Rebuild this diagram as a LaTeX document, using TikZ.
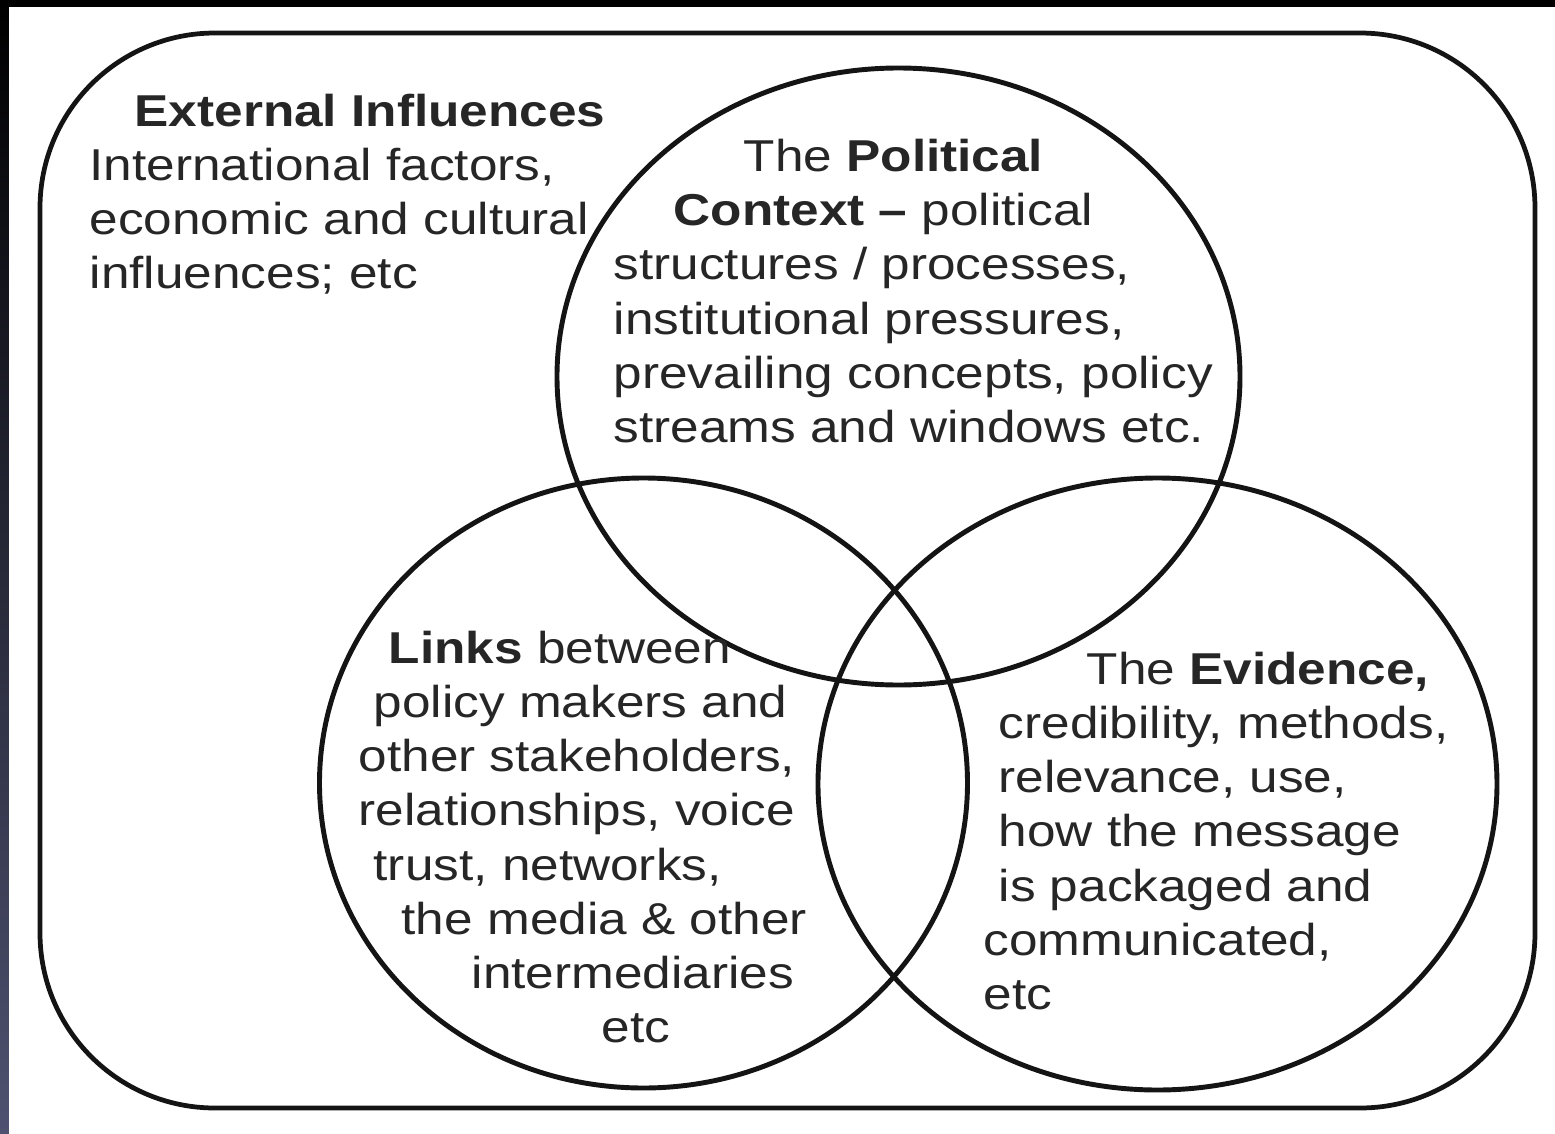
\documentclass[tikz,border=0pt]{standalone}
\usepackage{fontspec}
\setmainfont{Liberation Sans}[FakeStretch=1.15]
\usetikzlibrary{positioning}
\colorlet{Cink}{black!85}
\colorlet{Cline}{black!92}
\definecolor{Cframe}{RGB}{78,82,112}
\tikzset{
  ring/.style={draw=Cline, line width=1.4pt},
  outer/.style={draw=Cline, line width=1.35pt, rounded corners=17.5mm},
  blurb/.style={font=\fontsize{12.7}{15.4}\selectfont, align=left,
    inner sep=0pt, text=Cink},
}

\begin{document}
\begin{tikzpicture}

\useasboundingbox (0,0) rectangle (15.55,-11.34);
\fill[white] (0,0) rectangle (15.55,-11.34);

%% dark frame along the top and left edge
\fill[black] (0,0) rectangle (15.55,-0.07);
\shade[top color=black, bottom color=Cframe] (0,0) rectangle (0.09,-11.34);

%%==========================================================================
%% OUTER BOX — external influences
%%==========================================================================
\draw[outer] (0.40,-0.33) rectangle (15.35,-11.08);

\node[blurb, anchor=west] (ext) at (0.89,-1.94)
  {\hspace*{0.45cm}\textbf{External Influences}\\
   International factors,\\
   economic and cultural\\
   influences; etc};

%%==========================================================================
%% THREE OVERLAPPING CIRCLES
%%==========================================================================
\draw[ring] (8.985,-3.765) ellipse [x radius=3.415, y radius=3.085];
\draw[ring] (6.435,-7.83)  ellipse [x radius=3.24,  y radius=3.05];
\draw[ring] (11.575,-7.84) ellipse [x radius=3.395, y radius=3.06];

%% Political context
\node[blurb, anchor=west] (pol) at (6.13,-2.91)
  {\hspace*{1.30cm}The \textbf{Political}\\
   \hspace*{0.60cm}\textbf{Context --} political\\
   structures / processes,\\
   institutional pressures,\\
   prevailing concepts, policy\\
   streams and windows etc.};

%% Links
\node[blurb, anchor=west] (links) at (3.58,-8.37)
  {\hspace*{0.30cm}\textbf{Links} between\\
   \hspace*{0.15cm}policy makers and\\
   other stakeholders,\\
   relationships, voice\\
   \hspace*{0.15cm}trust, networks,\\
   \hspace*{0.43cm}the media \& other\\
   \hspace*{1.13cm}intermediaries\\
   \hspace*{2.43cm}etc};

%% Evidence
\node[blurb, anchor=west] (evid) at (9.83,-8.31)
  {\hspace*{1.03cm}The \textbf{Evidence,}\\
   \hspace*{0.15cm}credibility, methods,\\
   \hspace*{0.15cm}relevance, use,\\
   \hspace*{0.15cm}how the message\\
   \hspace*{0.15cm}is packaged and\\
   communicated,\\
   etc};

\end{tikzpicture}
\end{document}
